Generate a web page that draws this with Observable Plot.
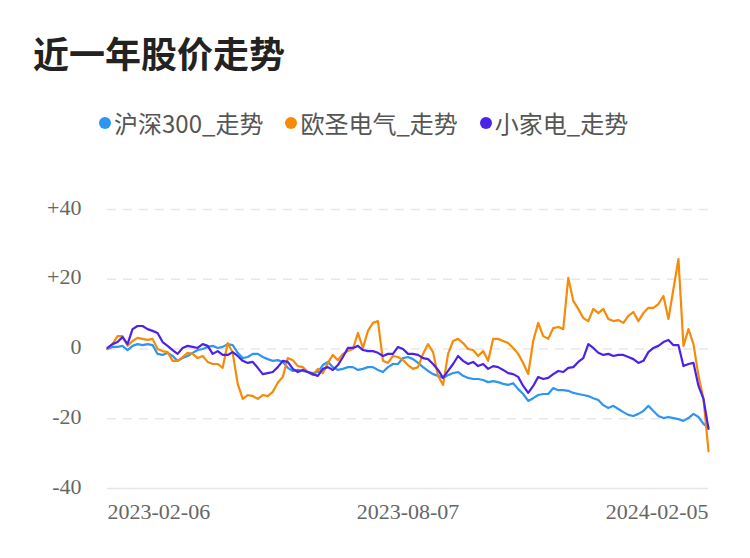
<!DOCTYPE html>
<html><head><meta charset="utf-8">
<script src="https://cdn.jsdelivr.net/npm/d3@7"></script>
<script src="https://cdn.jsdelivr.net/npm/@observablehq/plot@0.6"></script>
<style>
html,body{margin:0;padding:0;background:#fff;}
#wrap{position:relative;width:750px;height:558px;overflow:hidden;}
#title{position:absolute;left:33px;top:34px;font:bold 36px/36px "Noto Sans CJK SC";color:#222;margin:0;}
#legend{position:absolute;left:99px;top:108px;display:flex;align-items:center;font:24px/30px "Noto Sans CJK SC";color:#555;}
.item{display:flex;align-items:center;margin-right:22px;}
.dot{width:12px;height:12px;border-radius:50%;margin-right:3px;}
#chart{position:absolute;left:0;top:160px;}
</style></head>
<body>
<div id="wrap">
  <div id="title">近一年股价走势</div>
  <div id="legend"></div>
  <div id="chart"></div>
</div>
<script>
const seriesNames = ["沪深300_走势", "欧圣电气_走势", "小家电_走势"];
const seriesColors = ["#2e96f0", "#f68b0a", "#4c22ea"];
const startDate = "2023-02-06";
const endDate = "2024-02-05";
const tickDates = ["2023-02-06", "2023-08-07", "2024-02-05"];
const yTicks = [-40, -20, 0, 20, 40];

const hs300 = [0, 0.6, 0.6, 0.9, -0.3, 0.9, 1.4, 1.1, 1.4, 1.1,
 -1.4, -1.7, -1.1, -2.0, -3.4, -2.6, -2.0, -1.1, -0.3, 0,
 0.6, 0.9, 0.3, 0.6, 1.4, 1.1, -1.1, -2.6, -2.3, -1.4,
 -1.4, -2.3, -2.9, -3.4, -3.2, -3.7, -5.4, -6.3, -6.0, -6.3,
 -6.6, -6.9, -6.6, -4.6, -3.7, -5.2, -6.0, -5.7, -5.2, -5.2,
 -6.0, -5.7, -5.2, -5.2, -6.0, -6.6, -5.2, -4.3, -4.3, -2.6,
 -2.3, -2.9, -4.0, -5.2, -6.3, -7.2, -7.7, -8.3, -7.5, -6.9,
 -6.6, -7.7, -8.3, -8.6, -8.6, -8.9, -9.5, -9.2, -9.5, -10.0,
 -10.3, -9.8, -11.5, -12.9, -14.9, -14.1, -13.2, -12.9, -12.9, -11.2,
 -11.8, -11.8, -12.0, -12.6, -12.9, -13.2, -13.5, -14.1, -14.6, -16.1,
 -16.9, -16.3, -17.2, -18.1, -18.9, -19.2, -18.6, -17.8, -16.3, -17.8,
 -19.2, -19.8, -19.5, -19.8, -20.1, -20.6, -19.8, -18.6, -19.5, -21.5,
 -22.4];

const ouSheng = [0, 1.4, 3.7, 3.7, 0.9, 2.3, 3.2, 2.9, 2.6, 2.9,
 0, -0.6, -0.9, -3.4, -3.4, -2.3, -1.1, -1.4, -2.6, -2.0,
 -3.7, -4.3, -4.3, -5.4, 1.7, -1.1, -10.0, -14.3, -13.2, -13.5,
 -14.3, -13.2, -13.5, -12.3, -9.7, -8.0, -2.6, -3.2, -4.9, -5.2,
 -6.6, -7.5, -5.7, -6.9, -4.0, -1.7, -3.2, -1.4, -0.6, 0,
 4.6, 0.3, 5.2, 7.5, 8.0, -3.4, -4.0, -2.0, -2.3, -3.2,
 -4.6, -5.7, -5.2, -1.4, 1.4, -0.9, -7.7, -10.3, -1.4, 2.3,
 2.9, 1.7, 0, -0.3, -2.0, -0.6, -3.4, 2.9, 2.9, 2.3,
 1.7, 0.3, -1.4, -4.0, -7.2, 2.3, 7.5, 3.7, 2.9, 6.0,
 6.3, 5.7, 20.4, 13.8, 11.5, 8.9, 8.0, 11.5, 10.3, 11.5,
 8.6, 8.0, 8.3, 7.5, 9.5, 10.6, 8.0, 10.3, 11.8, 11.8,
 12.9, 15.2, 8.6, 17.2, 25.8, 0.9, 5.7, 1.4, -7.7, -14.3,
 -29.3];

const xiaoJiaDian = [0.3, 1.4, 2.0, 3.4, 1.4, 5.7, 6.6, 6.6, 5.7, 5.2,
 4.6, 2.0, 0.9, -0.3, -1.4, 0.3, 0.9, 0.6, 0.3, 1.4,
 0.9, -1.4, -0.6, -1.7, -1.7, -0.9, -2.0, -3.4, -4.0, -3.7,
 -5.4, -7.2, -6.9, -6.6, -5.2, -3.4, -3.7, -5.7, -6.6, -6.0,
 -6.6, -7.2, -7.7, -5.7, -5.2, -6.0, -4.6, -2.3, 0.3, 0.3,
 0.9, -0.3, -0.6, -0.6, -1.1, -2.0, -1.4, -1.4, 0.6, 0,
 -1.4, -1.4, -1.7, -2.6, -2.9, -4.3, -6.0, -8.3, -6.3, -4.3,
 -2.0, -3.4, -4.3, -3.7, -4.9, -4.3, -5.7, -4.9, -5.2, -6.0,
 -6.9, -7.2, -8.0, -10.6, -12.6, -10.6, -8.0, -8.6, -8.3, -7.2,
 -6.3, -6.6, -5.4, -5.2, -3.7, -2.6, 1.4, 0.3, -1.1, -1.7,
 -1.4, -2.0, -1.7, -1.7, -2.3, -2.9, -4.0, -3.4, -0.9, 0.3,
 0.9, 2.0, 2.6, 1.1, 1.1, -4.9, -4.3, -4.0, -10.6, -14.3,
 -22.9];

const seriesValues = [hs300, ouSheng, xiaoJiaDian];

// sample dates, evenly spaced across the year
const t0 = new Date(startDate + "T00:00:00Z");
const t1 = new Date(endDate + "T00:00:00Z");
const n = hs300.length;
const dates = d3.range(n).map(i => new Date(+t0 + (t1 - t0) * i / (n - 1)));

const rows = [];
seriesValues.forEach((vals, s) => vals.forEach((v, i) => rows.push({date: dates[i], value: v, series: seriesNames[s]})));

// legend
const legend = document.getElementById("legend");
seriesNames.forEach((name, i) => {
  const it = document.createElement("div");
  it.className = "item";
  const dot = document.createElement("span");
  dot.className = "dot";
  dot.style.background = seriesColors[i];
  const tx = document.createElement("span");
  tx.textContent = name;
  it.appendChild(dot); it.appendChild(tx);
  legend.appendChild(it);
});

const tickD = tickDates.map(d => new Date(d + "T00:00:00Z"));
const fmt = d3.utcFormat("%Y-%m-%d");
const axisCommon = {tickSize: 0, tickPadding: 15, fill: "#666", fontSize: 22, tickFormat: fmt, label: null};

const chart = Plot.plot({
  width: 750,
  height: 398,
  marginTop: 49,
  marginBottom: 70,
  marginLeft: 107,
  marginRight: 42,
  style: {fontFamily: "'Liberation Serif', serif", fontSize: "22px", background: "#fff"},
  x: {type: "utc", domain: [t0, t1]},
  y: {domain: [-40, 40]},
  color: {domain: seriesNames, range: seriesColors},
  marks: [
    Plot.ruleY(yTicks.filter(d => d !== -40), {stroke: "#e8e8e8", strokeWidth: 1.5, strokeDasharray: "9,7"}),
    Plot.ruleY([-40], {stroke: "#e6e6e6", strokeWidth: 1.5}),
    Plot.axisY(yTicks, {tickSize: 0, tickPadding: 26, dy: -2, fill: "#666", fontSize: 22, label: null,
      tickFormat: d => d > 0 ? "+" + d : String(d)}),
    Plot.axisX([tickD[0]], {...axisCommon, textAnchor: "start"}),
    Plot.axisX([tickD[1]], {...axisCommon, textAnchor: "middle"}),
    Plot.axisX([tickD[2]], {...axisCommon, textAnchor: "end"}),
    Plot.lineY(rows, {x: "date", y: "value", stroke: "series", strokeWidth: 2.2, z: "series"})
  ]
});
document.getElementById("chart").appendChild(chart);
</script>
</body></html>
